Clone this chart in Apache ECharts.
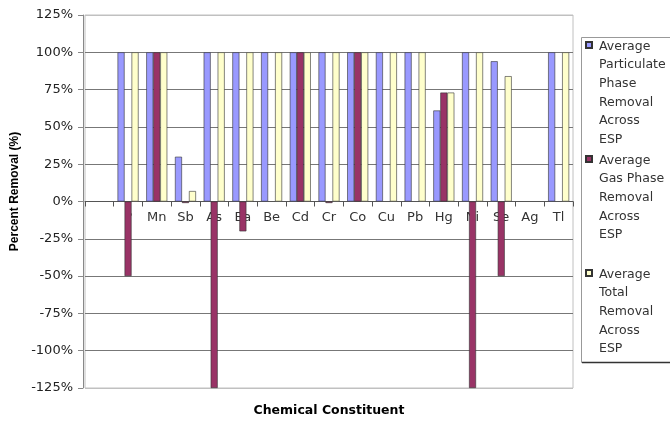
<!DOCTYPE html>
<html>
<head>
<meta charset="utf-8">
<script src="https://cdn.jsdelivr.net/npm/echarts@6/dist/echarts.min.js"></script>
<style>html,body{margin:0;padding:0;background:#fff;}#c{width:670px;height:423px;}</style>
</head>
<body>
<div id="c"></div>
<script>
const categories = ["", "P", "Mn", "Sb", "As", "Ba", "Be", "Cd", "Cr", "Co", "Cu", "Pb", "Hg", "Ni", "Se", "Ag", "Tl"];
const particulate = [null, 100, 100, 30, 100, 100, 100, 100, 100, 100, 100, 100, 61, 100, 94, null, 100];
const gasPhase = [null, -50, 100, -1, -125, -20, null, 100, -1, 100, null, null, 73, -125, -50, null, null];
const total = [null, 100, 100, 7, 100, 100, 100, 100, 100, 100, 100, 100, 73, 100, 84, null, 100];
const seriesNames = [
  "Average\nParticulate\nPhase\nRemoval\nAcross\nESP",
  "Average\nGas Phase\nRemoval\nAcross\nESP\n ",
  "Average\nTotal\nRemoval\nAcross\nESP\n "
];
const yTicks = { min: -125, max: 125, interval: 25 };

const chart = echarts.init(document.getElementById('c'), null, { renderer: 'canvas' });
const legendIcon = 'path://M0,0M0,5L6,5L6,11L0,11ZM8,112';
const gridColors = ['#c0c0c0', '#777', '#777', '#777', '#777', '#777', '#777', '#777', '#777', '#777', '#c0c0c0'];
const colors = ['#9999ff', '#993366', '#ffffcc'];
const dataSets = [particulate, gasPhase, total];

const gridTop = 15, gridBottom = 35, chartH = 423;
const plotH = chartH - gridTop - gridBottom;
// place the category axis line at the value 0 of the y scale
const zeroOffset = -plotH * (0 - yTicks.min) / (yTicks.max - yTicks.min);

chart.setOption({
  animation: false,
  backgroundColor: '#ffffff',
  grid: { left: 85, right: 97, top: gridTop, bottom: gridBottom, show: true, borderColor: '#c0c0c0', borderWidth: 1, containLabel: false, outerBoundsMode: 'none' },
  legend: {
    orient: 'vertical',
    left: 585,
    top: 36,
    padding: 0,
    itemGap: 0,
    itemWidth: 8,
    itemHeight: 112,
    symbolKeepAspect: false,
    icon: legendIcon,
    data: seriesNames,
    textStyle: { fontFamily: 'DejaVu Sans', fontSize: 12.5, lineHeight: 18.6, color: '#333' }
  },
  graphic: [
    { type: 'rect', left: 581, top: 37, z: -1, shape: { width: 120, height: 325 }, style: { fill: '#fff', stroke: '#999', lineWidth: 1 } },
    { type: 'line', z: -1, shape: { x1: 582, y1: 362.5, x2: 670, y2: 362.5 }, style: { stroke: '#333', lineWidth: 1.5 } }
  ],
  xAxis: {
    type: 'category',
    data: categories,
    position: 'bottom',
    offset: zeroOffset,
    name: 'Chemical Constituent',
    nameLocation: 'middle',
    nameGap: 203,
    nameTextStyle: { fontFamily: 'DejaVu Sans', fontWeight: 'bold', fontSize: 12.5, color: '#000' },
    axisLine: { onZero: false, lineStyle: { color: '#555', width: 1 } },
    axisTick: { show: true, length: 5, lineStyle: { color: '#555' } },
    axisLabel: { interval: 0, margin: 10, fontFamily: 'DejaVu Sans', fontSize: 13, color: '#333' },
    splitLine: { show: false }
  },
  yAxis: {
    type: 'value',
    min: yTicks.min,
    max: yTicks.max,
    interval: yTicks.interval,
    offset: 2,
    name: 'Percent Removal (%)',
    nameLocation: 'middle',
    nameRotate: 90,
    nameGap: 55,
    nameTextStyle: { fontFamily: 'Liberation Sans', fontWeight: 'bold', fontSize: 12, color: '#000', padding: [0, 0, 0, 20] },
    axisLine: { show: true, lineStyle: { color: '#888', width: 1 } },
    axisTick: { show: true, length: 5, lineStyle: { color: '#888' } },
    axisLabel: { formatter: '{value}%', margin: 10, fontFamily: 'DejaVu Sans', fontSize: 13, color: '#222' },
    splitLine: { show: true, lineStyle: { color: gridColors, width: 1 } }
  },
  series: seriesNames.map((n, i) => ({
    name: n,
    type: 'bar',
    data: dataSets[i],
    barWidth: 7,
    barGap: '0%',
    itemStyle: { color: colors[i], borderColor: '#333', borderWidth: 0.6 }
  }))
});
</script>
</body>
</html>
